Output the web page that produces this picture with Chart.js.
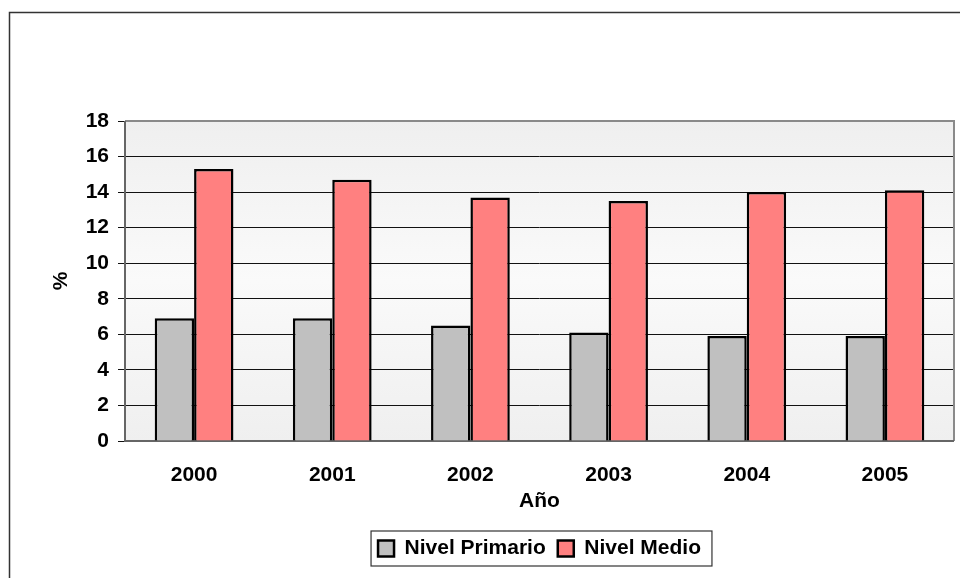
<!DOCTYPE html>
<html>
<head>
<meta charset="utf-8">
<script src="https://cdn.jsdelivr.net/npm/chart.js@4.4.0/dist/chart.umd.min.js"></script>
<style>
    html, body { margin: 0; padding: 0; background: #fff; }
</style>
</head>
<body>
<canvas id="chart" width="960" height="578"></canvas>
<script>
(function () {
    "use strict";

    // Data
    const years = ["2000", "2001", "2002", "2003", "2004", "2005"];
    const nivelPrimario = [6.9, 6.9, 6.5, 6.1, 5.9, 5.9];
    const nivelMedio = [15.3, 14.7, 13.7, 13.5, 14.0, 14.1];
    const yMin = 0;
    const yMax = 18;
    const yStep = 2;

    const FONT = "'Liberation Sans', Arial, sans-serif";

    // Plot background, outer frame, plot border, legend frame
    const frames = {
        id: "frames",
        beforeDraw(chart) {
            const { ctx, chartArea: a } = chart;
            ctx.save();
            ctx.strokeStyle = "#333";
            ctx.lineWidth = 1.5;
            ctx.strokeRect(9.5, 12.5, 1000, 700);

            const g = ctx.createLinearGradient(0, a.top, 0, a.bottom);
            g.addColorStop(0, "#efefef");
            g.addColorStop(0.5, "#fafafa");
            g.addColorStop(1, "#efefef");
            ctx.fillStyle = g;
            ctx.fillRect(a.left, a.top, a.width, a.height);
            ctx.restore();
        },
        beforeDatasetsDraw(chart) {
            const { ctx, chartArea: a } = chart;
            ctx.save();
            ctx.lineWidth = 2;
            ctx.strokeStyle = "#8a8a8a";
            ctx.beginPath();
            ctx.moveTo(a.left, a.top);
            ctx.lineTo(a.right, a.top);
            ctx.lineTo(a.right, a.bottom);
            ctx.stroke();
            ctx.strokeStyle = "#666";
            ctx.beginPath();
            ctx.moveTo(a.left, a.top);
            ctx.lineTo(a.left, a.bottom);
            ctx.lineTo(a.right, a.bottom);
            ctx.stroke();
            ctx.restore();
        },
        afterDraw(chart) {
            const hb = chart.legend.legendHitBoxes;
            if (!hb || !hb.length) return;
            const left = Math.min(...hb.map((h) => h.left));
            const right = Math.max(...hb.map((h) => h.left + h.width));
            const top = Math.min(...hb.map((h) => h.top));
            const bottom = Math.max(...hb.map((h) => h.top + h.height));
            const ctx = chart.ctx;
            ctx.save();
            ctx.strokeStyle = "#333";
            ctx.lineWidth = 1.2;
            ctx.strokeRect(left - 7, top - 7, right - left + 18, bottom - top + 14);
            ctx.restore();
        },
    };

    const ctx = document.getElementById("chart").getContext("2d");

    new Chart(ctx, {
        type: "bar",
        data: {
            labels: years,
            datasets: [
                {
                    label: "Nivel Primario",
                    data: nivelPrimario,
                    backgroundColor: "#c0c0c0",
                    borderColor: "#000",
                    borderWidth: 2.5,
                    categoryPercentage: 0.57,
                    barPercentage: 1,
                },
                {
                    label: "Nivel Medio",
                    data: nivelMedio,
                    backgroundColor: "#ff8080",
                    borderColor: "#000",
                    borderWidth: 2.5,
                    categoryPercentage: 0.57,
                    barPercentage: 1,
                },
            ],
        },
        options: {
            responsive: false,
            animation: false,
            devicePixelRatio: 1,
            layout: {
                padding: { left: 0, top: 121, right: 6, bottom: 9 },
            },
            plugins: {
                legend: {
                    position: "bottom",
                    fullSize: false,
                    labels: {
                        color: "#000",
                        boxWidth: 16,
                        boxHeight: 16,
                        padding: 12,
                        font: { family: FONT, size: 21, weight: "bold" },
                    },
                },
                tooltip: { enabled: false },
            },
            scales: {
                x: {
                    grid: { display: false, drawTicks: false },
                    border: { display: false },
                    ticks: {
                        color: "#000",
                        padding: 22,
                        font: { family: FONT, size: 21, weight: "bold" },
                    },
                    title: {
                        display: true,
                        text: "Año",
                        color: "#000",
                        padding: { top: 0, bottom: 12 },
                        font: { family: FONT, size: 21, weight: "bold" },
                    },
                    afterFit(scale) {
                        scale.height = 85;
                    },
                },
                y: {
                    min: yMin,
                    max: yMax,
                    ticks: {
                        stepSize: yStep,
                        color: "#000",
                        padding: 9,
                        font: { family: FONT, size: 21, weight: "bold" },
                    },
                    grid: {
                        color: (c) =>
                            c.tick && (c.tick.value === yMin || c.tick.value === yMax)
                                ? "rgba(0,0,0,0)"
                                : "#111",
                        tickColor: "#111",
                        tickLength: 7,
                        lineWidth: 1,
                    },
                    border: { display: false },
                    title: {
                        display: true,
                        text: "%",
                        color: "#000",
                        padding: { top: 49, bottom: 0 },
                        font: { family: FONT, size: 21, weight: "bold" },
                    },
                    afterFit(scale) {
                        scale.width = 125;
                    },
                },
            },
        },
        plugins: [frames],
    });
})();
</script>
</body>
</html>
